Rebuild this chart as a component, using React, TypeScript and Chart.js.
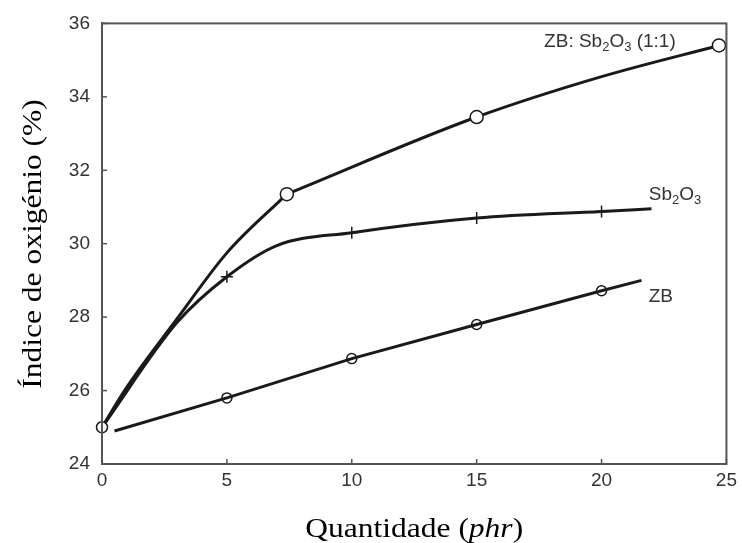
import React, { useEffect, useRef } from "react";
import { Chart, registerables } from "chart.js";

Chart.register(...registerables);

// Curve traces
const MIX_CURVE_A_X = [0, 1, 3, 5, 7.4];
const MIX_CURVE_A_Y = [25, 26.1, 27.95, 29.75, 31.35];
const MIX_CURVE_B_X = [7.4, 15, 20, 24.7];
const MIX_CURVE_B_Y = [31.35, 33.45, 34.55, 35.4];

const SB_CURVE_X = [0, 3, 5, 7, 10, 15, 20, 22];
const SB_CURVE_Y = [25, 27.85, 29.1, 29.95, 30.3, 30.7, 30.88, 30.95];

const ZB_LINE_X = [0.5, 5, 10, 15, 20, 21.6];
const ZB_LINE_Y = [24.9, 25.8, 26.87, 27.8, 28.72, 29.0];

// Measured points (markers)
const MIX_MARK_X = [7.4, 15, 24.7];
const MIX_MARK_Y = [31.35, 33.45, 35.4];
const SB_MARK_X = [5, 10, 15, 20];
const SB_MARK_Y = [29.1, 30.3, 30.7, 30.88];
const ZB_MARK_X = [5, 10, 15, 20];
const ZB_MARK_Y = [25.8, 26.87, 27.8, 28.72];
const ORIGIN_X = [0];
const ORIGIN_Y = [25];

const X_TICKS = [0, 5, 10, 15, 20, 25];
const Y_TICKS = [24, 26, 28, 30, 32, 34, 36];

const X_TITLE = ["Quantidade (", "phr", ")"];
const Y_TITLE = "Índice de oxigénio (%)";

const pts = (xs: number[], ys: number[]) => xs.map((x, i) => ({ x, y: ys[i] }));

const INK = "#1a1a1a";
const SANS = "'Liberation Sans', Arial, sans-serif";
const SERIF = "'Liberation Serif', 'Times New Roman', serif";

type Part = { t: string; sub?: boolean };
const LABELS: { x: number; y: number; parts: Part[] }[] = [
  { x: 17.7, y: 35.35, parts: [{ t: "ZB: Sb" }, { t: "2", sub: true }, { t: "O" }, { t: "3", sub: true }, { t: " (1:1)" }] },
  { x: 21.89, y: 31.18, parts: [{ t: "Sb" }, { t: "2", sub: true }, { t: "O" }, { t: "3", sub: true }] },
  { x: 21.89, y: 28.41, parts: [{ t: "ZB" }] },
];

const TITLE_STRETCH = 1.125;

const decorPlugin = {
  id: "decor",
  afterDatasetsDraw(chart: any) {
    const { ctx, chartArea: a, scales } = chart;
    const xs = scales.x;
    const ys = scales.y;
    ctx.save();
    // frame
    ctx.strokeStyle = "#555";
    ctx.lineWidth = 2;
    ctx.strokeRect(a.left, a.top, a.right - a.left, a.bottom - a.top);
    // inward ticks
    ctx.lineWidth = 1.5;
    X_TICKS.forEach((v) => {
      const px = xs.getPixelForValue(v);
      ctx.beginPath();
      ctx.moveTo(px, a.bottom);
      ctx.lineTo(px, a.bottom - 5);
      ctx.stroke();
    });
    Y_TICKS.forEach((v) => {
      const py = ys.getPixelForValue(v);
      ctx.beginPath();
      ctx.moveTo(a.left, py);
      ctx.lineTo(a.left + 5, py);
      ctx.stroke();
    });
    // series labels
    ctx.fillStyle = "#333";
    ctx.textBaseline = "alphabetic";
    ctx.textAlign = "left";
    LABELS.forEach((l) => {
      let px = xs.getPixelForValue(l.x);
      const py = ys.getPixelForValue(l.y);
      l.parts.forEach((p) => {
        ctx.font = p.sub ? `13px ${SANS}` : `19px ${SANS}`;
        ctx.fillText(p.t, px, py + (p.sub ? 4 : 0));
        px += ctx.measureText(p.t).width;
      });
    });
    // x title
    ctx.fillStyle = "#000";
    const fonts = [`28px ${SERIF}`, `italic 28px ${SERIF}`, `28px ${SERIF}`];
    let total = 0;
    X_TITLE.forEach((t, i) => {
      ctx.font = fonts[i];
      total += ctx.measureText(t).width;
    });
    ctx.save();
    ctx.translate((a.left + a.right) / 2, 537);
    ctx.scale(TITLE_STRETCH, 1);
    let tx = -total / 2;
    X_TITLE.forEach((t, i) => {
      ctx.font = fonts[i];
      ctx.fillText(t, tx, 0);
      tx += ctx.measureText(t).width;
    });
    ctx.restore();
    // y title
    ctx.save();
    ctx.translate(41, 244);
    ctx.rotate(-Math.PI / 2);
    ctx.scale(TITLE_STRETCH, 1);
    ctx.font = `28px ${SERIF}`;
    ctx.textAlign = "center";
    ctx.fillText(Y_TITLE, 0, 0);
    ctx.restore();
    ctx.restore();
  },
};

const curve = (data: { x: number; y: number }[], mode: "monotone" | "straight") => ({
  data,
  borderColor: INK,
  borderWidth: 3,
  pointRadius: 0,
  cubicInterpolationMode: mode === "monotone" ? "monotone" : "default",
  tension: 0,
  fill: false,
});

export default function App() {
  const ref = useRef<HTMLCanvasElement>(null);
  useEffect(() => {
    if (!ref.current) return;
    const chart = new Chart(ref.current, {
      type: "line",
      data: {
        datasets: [
          {
            data: pts(ORIGIN_X, ORIGIN_Y),
            showLine: false,
            pointRadius: 5.5,
            pointBackgroundColor: "#fff",
            pointBorderColor: INK,
            pointBorderWidth: 1.5,
            clip: false,
          },
          {
            data: pts(MIX_MARK_X, MIX_MARK_Y),
            showLine: false,
            pointRadius: 6.5,
            pointBackgroundColor: "#fff",
            pointBorderColor: INK,
            pointBorderWidth: 1.5,
            clip: false,
          },
          {
            data: pts(SB_MARK_X, SB_MARK_Y),
            showLine: false,
            pointStyle: "cross",
            pointRadius: 6,
            pointBorderColor: INK,
            pointBorderWidth: 1.5,
            clip: false,
          },
          {
            data: pts(ZB_MARK_X, ZB_MARK_Y),
            showLine: false,
            pointRadius: 5,
            pointBackgroundColor: "rgba(0,0,0,0)",
            pointBorderColor: INK,
            pointBorderWidth: 1.5,
            clip: false,
          },
          curve(pts(MIX_CURVE_A_X, MIX_CURVE_A_Y), "monotone"),
          curve(pts(MIX_CURVE_B_X, MIX_CURVE_B_Y), "monotone"),
          curve(pts(SB_CURVE_X, SB_CURVE_Y), "monotone"),
          curve(pts(ZB_LINE_X, ZB_LINE_Y), "straight"),
        ],
      },
      options: {
        animation: false,
        responsive: false,
        events: [],
        layout: { padding: { left: 0, right: 13, top: 23, bottom: 0 } },
        plugins: { legend: { display: false }, tooltip: { enabled: false } },
        scales: {
          x: {
            type: "linear",
            min: 0,
            max: 25,
            afterFit: (s: any) => {
              s.height = 79;
            },
            afterBuildTicks: (s: any) => {
              s.ticks = X_TICKS.map((v) => ({ value: v }));
            },
            grid: { display: false, drawTicks: false },
            border: { display: true, color: "#555", width: 2 },
            ticks: { padding: 5, color: "#333", font: { family: SANS, size: 19 } },
          },
          y: {
            type: "linear",
            min: 24,
            max: 36,
            afterFit: (s: any) => {
              s.width = 102;
            },
            afterBuildTicks: (s: any) => {
              s.ticks = Y_TICKS.map((v) => ({ value: v }));
            },
            grid: { display: false, drawTicks: false },
            border: { display: true, color: "#555", width: 2 },
            ticks: { padding: 12, color: "#333", font: { family: SANS, size: 19 } },
          },
        },
      },
      plugins: [decorPlugin],
    } as any);
    return () => chart.destroy();
  }, []);
  return (
    <div style={{ position: "absolute", left: 0, top: 0, width: 742, height: 543, background: "#fff" }}>
      <canvas ref={ref} width={742} height={543} style={{ display: "block" }} />
    </div>
  );
}
